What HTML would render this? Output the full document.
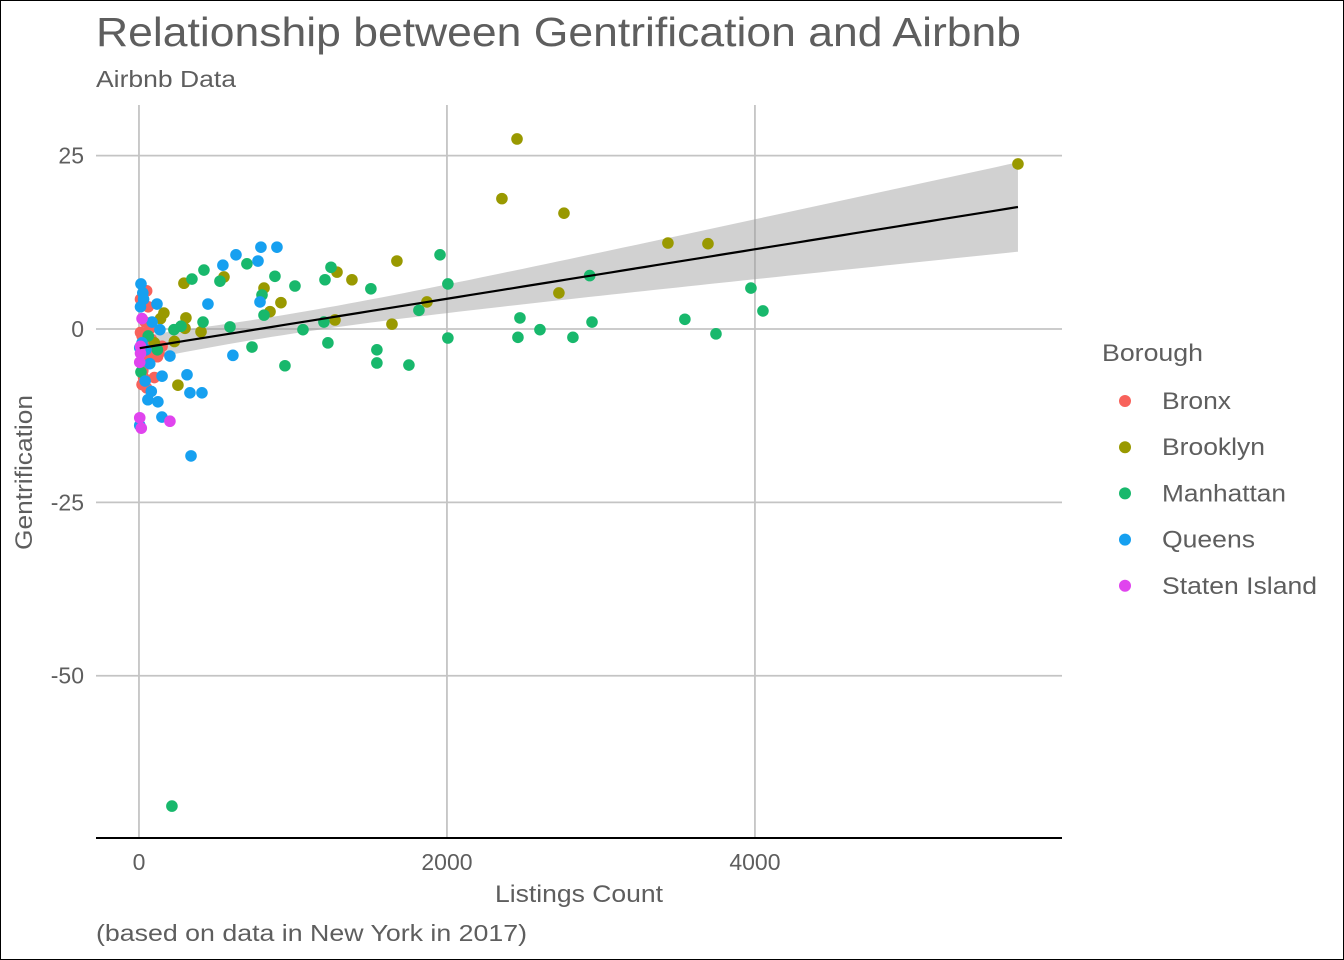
<!DOCTYPE html>
<html><head><meta charset="utf-8"><style>
html,body{margin:0;padding:0;background:#fff}
body{width:1344px;height:960px;overflow:hidden}
svg{display:block}
text{font-family:"Liberation Sans",sans-serif}
</style></head><body>
<svg id="chart" width="1344" height="960" viewBox="0 0 1344 960">
<rect x="0.5" y="0.5" width="1343" height="959" fill="#fff" stroke="#000"/>
<text x="96" y="46" font-size="41" fill="#5e5e5e" textLength="925" lengthAdjust="spacingAndGlyphs">Relationship between Gentrification and Airbnb</text>
<text x="96" y="87" font-size="23" fill="#5e5e5e" textLength="140" lengthAdjust="spacingAndGlyphs">Airbnb Data</text>
<g id="grid"></g>
<g id="band"></g>
<g id="pts"></g>
<g id="axes"></g>
<text x="495" y="902" font-size="24" fill="#5e5e5e" textLength="168" lengthAdjust="spacingAndGlyphs">Listings Count</text>
<text transform="translate(32,550) rotate(-90)" font-size="24" fill="#5e5e5e" textLength="155" lengthAdjust="spacingAndGlyphs">Gentrification</text>
<text x="96" y="941" font-size="23" fill="#5e5e5e" textLength="431" lengthAdjust="spacingAndGlyphs">(based on data in New York in 2017)</text>
<g id="legend">
<text x="1102" y="361" font-size="24" fill="#5e5e5e" textLength="101" lengthAdjust="spacingAndGlyphs">Borough</text>
</g>
</svg>
<script>
const boroughs=["Bronx","Brooklyn","Manhattan","Queens","Staten Island"];
const legendWidths=[69,103,124,93,155];
const colors=["#F8625B","#999900","#18B86C","#16A0F0","#E044EE"];
const xTicks=[0,2000,4000];
const yTicks=[25,0,-25,-50];
const bronxX=[10,30,50,60,20,40,80,100,60,30,20,50,100,120,70,40,90,150,130,10,25,55];
const bronxY=[4.3,3.6,5.5,3.2,-1,-2,-1.5,-3,-4,-7,-8,-8.5,-7,-4,0,1,-2.5,-2.5,-3.5,-0.5,-6,-2];
const brooklynX=[2455,2357,2760,5708,3435,3695,1675,2727,1870,1643,1286,1383,1273,812,851,922,552,292,305,299,403,253,162,140,230,100];
const brooklynY=[27.4,18.8,16.7,23.8,12.4,12.3,9.8,5.2,3.9,0.7,8.2,7.1,1.3,5.9,2.5,3.8,7.5,6.6,1.6,0.1,-0.4,-8.1,2.3,1.5,-1.8,-2];
const manhattanX=[1955,2006,2927,3974,4052,3545,3747,2942,2604,2818,2461,2474,2006,1818,1753,1545,1545,1506,1247,1208,1201,1227,1065,1013,948,883,812,799,734,701,591,526,422,344,416,273,227,214,13,120,60];
const manhattanY=[10.7,6.5,7.7,5.9,2.6,1.4,-0.7,1.0,-0.1,-1.2,-1.2,1.6,-1.3,2.7,-5.2,-3.0,-4.9,5.8,8.9,7.1,1.0,-2.0,-0.1,6.2,-5.3,7.6,2.0,4.9,-2.6,9.4,0.3,6.9,8.5,7.2,1.0,0.4,-0.1,-68.8,-6.2,-3,-1];
const queensX=[792,896,630,545,773,786,448,610,312,409,331,338,201,149,123,117,136,13,25,30,5,5,58,80,40,70,150,45,20,10,85];
const queensY=[11.8,11.8,10.7,9.2,9.8,3.9,3.6,-3.8,-6.6,-9.2,-9.2,-18.3,-3.9,-12.7,-10.5,3.6,-0.1,6.5,5.2,4.3,-2.7,-13.9,-10.2,-9,-7.5,-5,-6.8,-3,-2,3.2,1];
const statenX=[5,15,201,5,10,20,10];
const statenY=[-12.8,-14.3,-13.3,-4.8,-3.5,1.5,-2.5];
const seriesX=[bronxX,brooklynX,manhattanX,queensX,statenX];
const seriesY=[bronxY,brooklynY,manhattanY,queensY,statenY];

const NS="http://www.w3.org/2000/svg";
const PL=96,PR=1062,PT=105,PB=838;
const X0=-279,X1=5994,Y0=-73.4,Y1=32.3;
const sx=v=>PL+(v-X0)/(X1-X0)*(PR-PL);
const sy=v=>PB-(v-Y0)/(Y1-Y0)*(PB-PT);
function mk(tag,attrs,parent){const e=document.createElementNS(NS,tag);for(const k in attrs)e.setAttribute(k,attrs[k]);parent.appendChild(e);return e;}
const grid=document.getElementById('grid'),axes=document.getElementById('axes');
xTicks.forEach(t=>{
  const l=mk('line',{x1:sx(t),x2:sx(t),y1:PT,y2:PB,stroke:'#c4c4c4','stroke-width':1.8},grid);
  
  
  const tx=mk('text',{x:sx(t),y:PB+32,'font-size':23,fill:'#5e5e5e','text-anchor':'middle'},axes);
  tx.textContent=t;
  
  
});
yTicks.forEach(t=>{
  const l=mk('line',{x1:PL,x2:PR,y1:sy(t),y2:sy(t),stroke:'#c4c4c4','stroke-width':1.8},grid);
  
  
  const tx=mk('text',{x:84,y:sy(t)+8,'font-size':23,fill:'#5e5e5e','text-anchor':'end'},axes);
  tx.textContent=t;
  
  
});
const ax=mk('line',{x1:PL,x2:PR,y1:PB,y2:PB,stroke:'#000','stroke-width':2},axes);



const ax_=[].concat(...seriesX),ay_=[].concat(...seriesY);
const n=ax_.length,mx=ax_.reduce((a,b)=>a+b)/n,my=ay_.reduce((a,b)=>a+b)/n;
let sxx=0,sxy=0;for(let i=0;i<n;i++){sxx+=(ax_[i]-mx)**2;sxy+=(ax_[i]-mx)*(ay_[i]-my);}
const b=sxy/sxx,a=my-b*mx;
let sse=0;for(let i=0;i<n;i++)sse+=(ay_[i]-a-b*ax_[i])**2;
const s=Math.sqrt(sse/(n-2));
const xmin=Math.min(...ax_),xmax=Math.max(...ax_);
const up=[],lo=[],ln=[];
for(let k=0;k<=80;k++){const x=xmin+(xmax-xmin)*k/80;const yh=a+b*x;const se=s*Math.sqrt(1/n+(x-mx)**2/sxx)*1.85;
  up.push(sx(x)+','+sy(yh+se));lo.unshift(sx(x)+','+sy(yh-se));ln.push(sx(x)+','+sy(yh));}
const band=document.getElementById('band');
const bp=mk('polygon',{points:up.concat(lo).join(' '),fill:'#999','fill-opacity':0.45},band);



const pts=document.getElementById('pts');
seriesX.forEach((xs,si)=>{xs.forEach((x,i)=>{
  const c=mk('circle',{cx:sx(x),cy:sy(seriesY[si][i]),r:5.8,fill:colors[si]},pts);
  
  
});});
const fl=mk('polyline',{points:ln.join(' '),fill:'none',stroke:'#000','stroke-width':2.2},pts);



const lg=document.getElementById('legend');
boroughs.forEach((bn,i)=>{
  const y=401+i*46.2;
  const g=mk('g',{},lg);
  
  
  mk('circle',{cx:1125,cy:y,r:6,fill:colors[i]},g);
  const t=mk('text',{x:1162,y:y+8,'font-size':24,fill:'#5e5e5e',textLength:legendWidths[i],lengthAdjust:'spacingAndGlyphs'},g);
  t.textContent=bn;
});
</script>
</body></html>
